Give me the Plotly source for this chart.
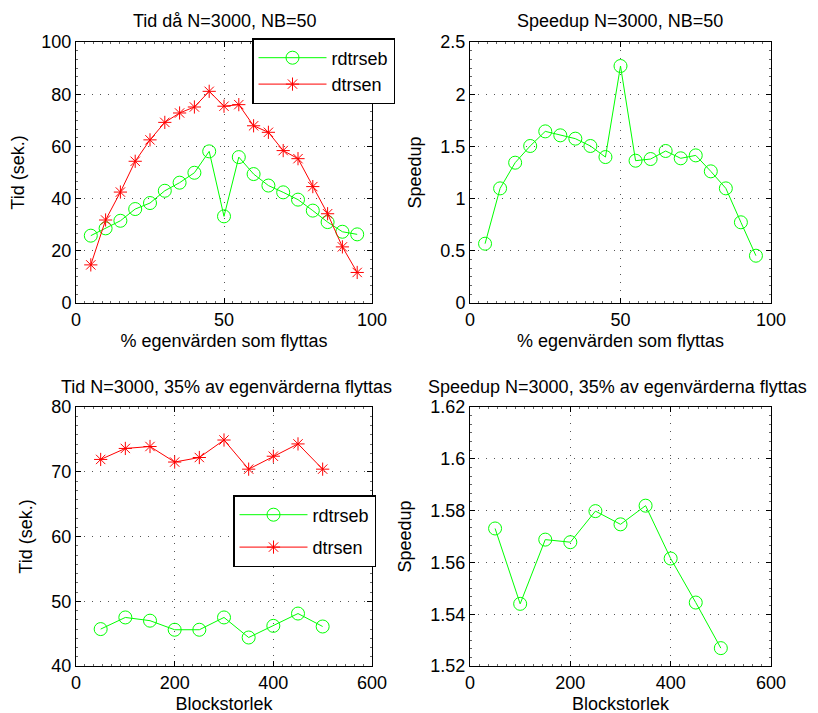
import plotly.graph_objects as go

# procent egenvärden som flyttas, N=3000, NB=50
procent = [5, 10, 15, 20, 25, 30, 35, 40, 45, 50, 55, 60, 65, 70, 75, 80, 85, 90, 95]
tid_rdtrseb = [25.8, 28.6, 31.5, 36.0, 38.3, 43.0, 46.1, 49.9, 58.1, 33.2, 55.9, 49.4,
               45.0, 42.4, 39.6, 35.4, 31.0, 27.3, 26.3]
tid_dtrsen = [14.6, 31.8, 42.5, 54.3, 62.5, 69.2, 72.8, 75.1, 81.1, 75.4, 76.0, 67.9,
              65.4, 58.4, 55.3, 44.6, 34.2, 21.5, 11.7]
speedup_procent = [0.568, 1.098, 1.344, 1.504, 1.644, 1.606, 1.574, 1.504, 1.398, 2.270,
                   1.363, 1.379, 1.456, 1.386, 1.414, 1.261, 1.098, 0.773, 0.453]

# blockstorlek, N=3000, 35% flyttas
blockstorlek = [50, 100, 150, 200, 250, 300, 350, 400, 450, 500]
tid_block_rdtrseb = [45.7, 47.5, 47.0, 45.6, 45.6, 47.5, 44.4, 46.2, 48.1, 46.1]
tid_block_dtrsen = [71.9, 73.6, 73.9, 71.5, 72.2, 74.9, 70.4, 72.4, 74.3, 70.4]
speedup_block = [1.5731, 1.5440, 1.5688, 1.5678, 1.5798, 1.5747, 1.5819, 1.5615, 1.5445, 1.5269]

GREEN = "#00ff00"
RED = "#ff0000"
FONT = "Liberation Sans, Arial, sans-serif"
W, H = 818, 713
OFF = 8  # page body margin

fig = go.Figure()


def green(x, y, xa, ya, legend=None, show=False):
    return go.Scatter(x=x, y=y, xaxis=xa, yaxis=ya, mode="lines+markers", name="rdtrseb",
                      line=dict(color=GREEN, width=1), legendgroup="g" + xa,
                      marker=dict(symbol="circle-open", size=13, color=GREEN, line=dict(width=1)),
                      showlegend=show, legend=legend)


def red(x, y, xa, ya, legend=None, show=False):
    return go.Scatter(x=x, y=y, xaxis=xa, yaxis=ya, mode="lines+markers", name="dtrsen",
                      line=dict(color=RED, width=1), legendgroup="r" + xa,
                      marker=dict(symbol="asterisk-open", size=11, color=RED, line=dict(width=1, color=RED)),
                      showlegend=show, legend=legend)


fig.add_trace(green(procent, tid_rdtrseb, "x", "y", "legend", True))
fig.add_trace(red(procent, tid_dtrsen, "x", "y", "legend", True))
fig.add_trace(green(procent, speedup_procent, "x2", "y2"))
fig.add_trace(green(blockstorlek, tid_block_rdtrseb, "x3", "y3", "legend2", True))
fig.add_trace(red(blockstorlek, tid_block_dtrsen, "x3", "y3", "legend2", True))
fig.add_trace(green(blockstorlek, speedup_block, "x4", "y4"))


def fx(px):
    return (px - OFF) / W


def fy(px):
    return 1 - (px - OFF) / H


def axis(dom, rng, dtick, minor, title, anchor, standoff):
    return dict(domain=dom, range=rng, dtick=dtick, tick0=rng[0], autorange=False,
                showline=True, linecolor="black", linewidth=1, mirror="allticks",
                ticks="inside", ticklen=5, tickcolor="black",
                minor=dict(ticks="inside", ticklen=2, dtick=minor, tick0=rng[0], tickcolor="#666", showgrid=False),
                showgrid=True, gridcolor="#555", griddash="1px,7px", gridwidth=1,
                zeroline=False, tickfont=dict(size=18, color="black"), automargin=False,
                title=dict(text=title, font=dict(size=18, color="black"), standoff=standoff),
                anchor=anchor)


left = [fx(76), fx(372)]
right = [fx(470), fx(771)]
top = [fy(303), fy(42)]
bottom = [fy(666), fy(407)]

fig.update_layout(
    width=W, height=H,
    margin=dict(l=0, r=0, t=0, b=0, autoexpand=False),
    paper_bgcolor="white", plot_bgcolor="white",
    font=dict(family=FONT, size=18, color="black"),
    xaxis=axis(left, [0, 100], 50, 50 / 17, "% egenvärden som flyttas", "y", 5),
    yaxis=axis(top, [0, 100], 20, 20 / 6, "Tid (sek.)", "x", 14),
    xaxis2=axis(right, [0, 100], 50, 50 / 17, "% egenvärden som flyttas", "y2", 5),
    yaxis2=axis(top, [0, 2.5], 0.5, 0.5 / 6, "Speedup", "x2", 14),
    xaxis3=axis(left, [0, 600], 200, 200 / 11, "Blockstorlek", "y3", 5),
    yaxis3=axis(bottom, [40, 80], 10, 10 / 7, "Tid (sek.)", "x3", 14),
    xaxis4=axis(right, [0, 600], 200, 200 / 11, "Blockstorlek", "y4", 5),
    yaxis4=axis(bottom, [1.52, 1.62], 0.02, 0.02 / 6, "Speedup", "x4", 14),
    legend=dict(x=fx(252), y=fy(38), xanchor="left", yanchor="top",
                bordercolor="black", borderwidth=1.5, bgcolor="white",
                font=dict(size=18), itemwidth=68, tracegroupgap=0, traceorder="grouped"),
    legend2=dict(x=fx(233), y=fy(495), xanchor="left", yanchor="top",
                 bordercolor="black", borderwidth=1.5, bgcolor="white",
                 font=dict(size=18), itemwidth=68, tracegroupgap=6, traceorder="grouped"),
)

titles = [
    ("Tid då N=3000, NB=50", 224, 21),
    ("Speedup N=3000, NB=50", 620, 21),
    ("Tid N=3000, 35% av egenvärderna flyttas", 226, 387),
    ("Speedup N=3000, 35% av egenvärderna flyttas", 617, 387),
]
for text, cx, cy in titles:
    fig.add_annotation(text=text, x=fx(cx), y=fy(cy), xref="paper", yref="paper",
                       xanchor="center", yanchor="middle", showarrow=False,
                       font=dict(size=18, color="black"))

fig.write_html("out.html")
